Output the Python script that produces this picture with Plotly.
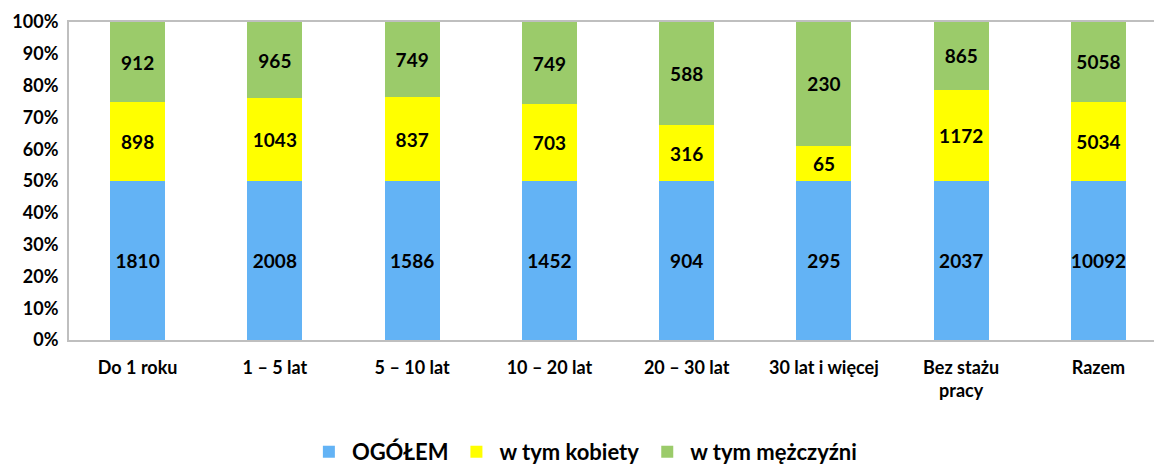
import plotly.graph_objects as go

categories = ["Do 1 roku", "1 – 5 lat", "5 – 10 lat", "10 – 20 lat", "20 – 30 lat",
              "30 lat i więcej", "Bez stażu<br>pracy", "Razem"]
ogolem = [1810, 2008, 1586, 1452, 904, 295, 2037, 10092]
kobiety = [898, 1043, 837, 703, 316, 65, 1172, 5034]
mezczyzni = [912, 965, 749, 749, 588, 230, 865, 5058]

series = [("OGÓŁEM", ogolem, "#63B3F5"),
          ("w tym kobiety", kobiety, "#FFFF00"),
          ("w tym mężczyźni", mezczyzni, "#9BCB6A")]

FONT = "Lato"
fig = go.Figure()
x = list(range(len(categories)))
for name, vals, col in series:
    fig.add_trace(go.Bar(
        x=x, y=vals, name=name, marker=dict(color=col, line=dict(width=0)),
        text=[str(v) for v in vals], textposition="inside", insidetextanchor="middle",
        textangle=0, constraintext="none",
        textfont=dict(family=FONT, size=19, color="black", weight="bold"),
        width=0.4,
    ))

fig.update_layout(
    barmode="stack", barnorm="percent",
    width=1154, height=468,
    margin=dict(l=69, r=0, t=22, b=128, autoexpand=False),
    plot_bgcolor="white", paper_bgcolor="white",
    font=dict(family=FONT, color="black"),
    showlegend=True,
    legend=dict(orientation="h", x=0.475, xanchor="center", y=-0.352, yanchor="middle",
                font=dict(family=FONT, size=22, weight="bold"), traceorder="normal",
                itemsizing="constant", itemwidth=36),
    xaxis=dict(tickmode="array", tickvals=x, ticktext=categories, range=[-0.5, 7.405],
               showline=True, linecolor="#BFBFBF", linewidth=2, mirror=True,
               ticks="", showgrid=False, ticklabelstandoff=10, automargin=False,
               tickfont=dict(family=FONT, size=18, weight="bold")),
    yaxis=dict(range=[0, 100], tickvals=list(range(0, 101, 10)),
               ticktext=[f"{v}%" for v in range(0, 101, 10)],
               showline=True, linecolor="#BFBFBF", linewidth=2, mirror=False,
               showgrid=False, ticks="", ticklabelstandoff=5, automargin=False,
               tickfont=dict(family=FONT, size=18, weight="bold")),
)
fig.write_html("out.html", config={"displayModeBar": False},
               post_script="document.body.style.margin='0';document.body.style.overflow='hidden';")
